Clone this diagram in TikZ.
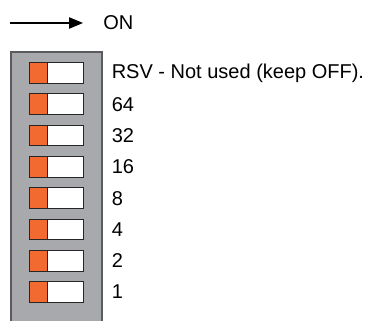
\documentclass[tikz,border=0pt]{standalone}
\usepackage{fontspec}
\setmainfont{Liberation Sans}
\usepackage{xcolor}
\usetikzlibrary{arrows.meta}
\definecolor{dipbody}{HTML}{A7A9AC}
\definecolor{dipedge}{HTML}{5A5B5D}
\definecolor{lever}{HTML}{F26A30}

\begin{document}
\begin{tikzpicture}[x=0.75pt,y=0.75pt,
    lbl/.style={anchor=west,inner sep=0pt,font=\fontsize{15}{18}\selectfont}]
  \useasboundingbox (0,0) rectangle (391,320);
  \fill[white] (0,0) rectangle (391,320);
  % switch housing
  \draw[dipedge,fill=dipbody,line width=0.9pt] (11,-3) rectangle (102,268);
  \foreach \lab [count=\i from 0] in {RSV - Not used (keep OFF).,64,32,16,8,4,2,1} {
    \pgfmathsetmacro{\yc}{247-31.3*\i}
    \fill[white] (29,\yc-10.3) rectangle (83.5,\yc+10.3);
    \fill[lever] (29,\yc-10.3) rectangle (47.7,\yc+10.3);
    \draw[black!85,line width=0.75pt] (29,\yc-10.3) rectangle (83.5,\yc+10.3)
      (47.7,\yc-10.3) -- (47.7,\yc+10.3);
    \node[lbl] (sw\i) at (111.5,\yc) {\lab};
  }
  % direction marker
  \coordinate (tail) at (10,297);
  \node[lbl] (on) at (103,297) {ON};
  \draw[line width=0.9pt,-{Triangle[length=10.5pt,width=8.5pt]}] (tail) -- ([xshift=-15pt]on.west);
\end{tikzpicture}
\end{document}
